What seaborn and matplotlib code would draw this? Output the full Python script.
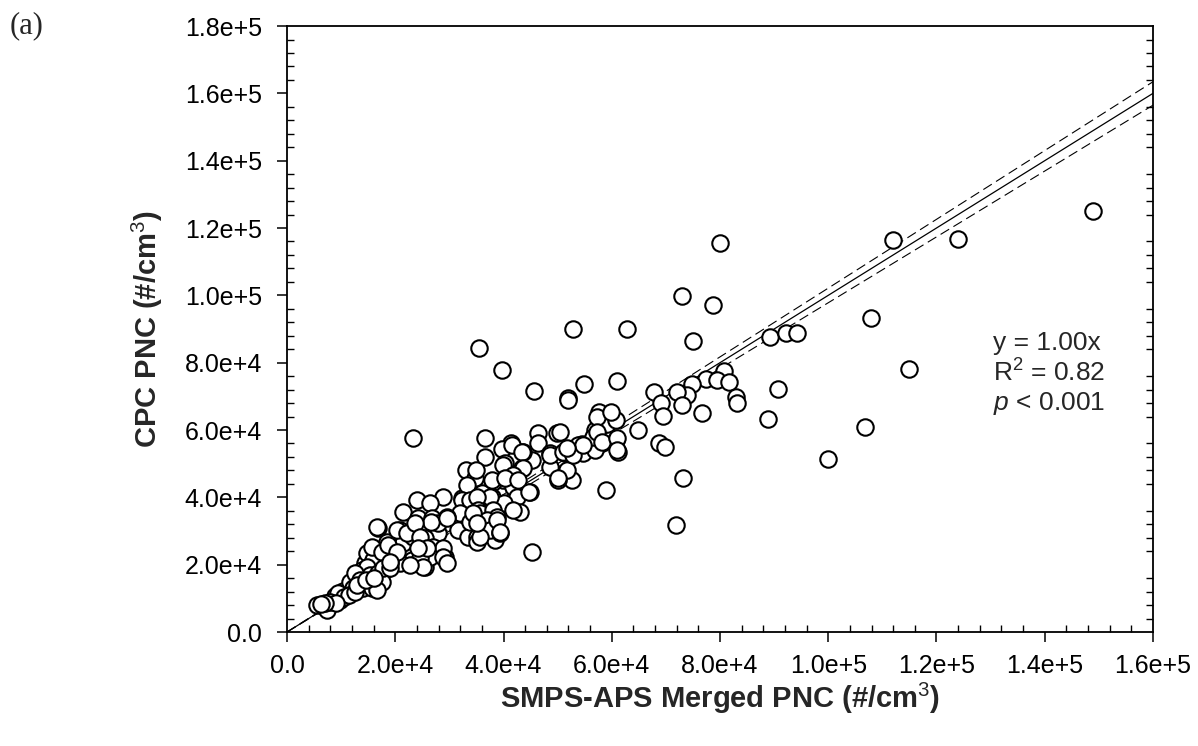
import numpy as np
import pandas as pd
import matplotlib
matplotlib.use("Agg")
import matplotlib.pyplot as plt
from matplotlib.ticker import MultipleLocator, FuncFormatter
import seaborn as sns

# Paired number concentrations, in thousands of particles per cm^3
smps_k = [
    149, 124, 112, 80, 73, 78.7, 107.9, 75, 89.3, 92.2, 94.3, 115, 80.8, 77.4, 79.5, 81.7,
    74.8, 73.9, 72.1, 83, 83.2, 67.8, 69.1, 73, 69.5, 76.7, 90.8, 88.9, 106.8, 100, 68.8,
    69.9, 73.2, 71.9,
    23.3, 35.5, 39.7, 52.9, 62.8, 45.7, 51.9, 54.9, 61, 64.9, 59, 45.3,
    57.7, 59.2, 60.8, 56.9, 58.2, 60.8, 61.2, 54.5, 54.7, 52.7, 51.4, 51.7, 49.9, 46.4,
    46.4, 48.6, 48.6, 50.1, 45.3, 43.6, 44.9, 43.4, 41.4, 39.7, 36.6, 36.6, 40.3, 39.9,
    38.1, 33.1, 34.8, 41.8, 42.5, 43.1, 37.9, 40, 32.3, 36,
    51.9, 53.8, 57.3, 56.9, 56.6, 41.6, 43.4, 39.9, 43.6, 41.8, 48.6, 51, 52.9, 50.1,
    34.9, 37.9, 40.3, 42.7, 37.5, 44.8,
    59.9, 57.3, 58.2, 61, 61, 54.7, 51.7, 50.5,
    28.8, 33.3, 32.3, 33.8, 35.1, 32, 35.3, 35.7, 38.1, 38.8, 38.4, 29.6, 27.9, 31.6,
    33.5, 35.1, 35.1, 29.2, 25.5, 24, 26.4, 21.4, 24.2, 26.8, 24.6, 27.9, 23.1, 25.5,
    16.8, 18.5, 20.3, 21.4, 23.1, 20.9, 19, 18.1, 16.6, 15.7, 15, 14.4, 13.9, 12.9, 12.2,
    26.6, 29.6, 33.8, 37, 37.5, 39.4, 35.7, 20.9, 21.4, 23.3, 25, 27, 28.8, 26.4,
    24.6, 28.8, 25.1, 29.6,
    34.4, 35.1, 38.8, 39.4, 41.8,
    16.6, 20.3, 22.2, 23.7, 24.6, 25.9, 24.2, 22.7,
    14.8, 15.9, 15.7, 17.6, 18.7, 20.3,
    14.8, 15.3, 14, 15.7,
    5.5, 6.7, 7.6, 8.5, 7.4, 10.4, 8.9, 9.8, 11.6, 12.6, 12.2, 13.5, 16.8, 17.6, 16.6,
    17.7, 19, 19,
    9.5, 10.5, 11.5, 12.5, 8, 9, 13, 14.5, 16, 7, 6.2,
]
cpc_k = [
    125, 116.6, 116.3, 115.7, 99.7, 97, 93.2, 86.3, 87.5, 88.7, 88.7, 78, 77.4, 75.3, 74.8, 74.2,
    73.6, 70.3, 71.2, 69.7, 68, 71.2, 68, 67.4, 64.1, 65, 72.1, 63.2, 60.8, 51.3, 56.1,
    54.9, 45.7, 31.8,
    57.6, 84.3, 77.7, 89.9, 89.9, 71.5, 69.4, 73.6, 74.5, 59.9, 42.1, 23.7,
    65.3, 61.7, 62.9, 59.9, 56.1, 57, 53.4, 55.8, 53.1, 45.1, 53.1, 48.1, 59, 59,
    56.1, 53.1, 49, 45.1, 51, 53.4, 41.5, 48.7, 56.1, 54.3, 57.6, 51.9, 50.1, 45.1,
    44.5, 48.1, 45.7, 43, 40.1, 35.6, 40.1, 38.3, 39.8, 41.2,
    68.8, 55.5, 63.8, 54, 57.9, 55.5, 53.4, 49.6, 48.7, 46.6, 52.5, 53.4, 52.5, 45.7,
    48.1, 45.1, 45.7, 45.1, 40.1, 41.5,
    65.3, 59.3, 56.4, 57.6, 54, 55.5, 54.6, 59.3,
    40.1, 43.6, 39.2, 39.2, 40.1, 35.3, 36.2, 35.3, 36.2, 34.1, 27.3, 34.1, 29.4, 30.3,
    28.2, 28.2, 26.7, 22.3, 19.3, 39.2, 38.3, 35.6, 33.8, 33.8, 25.2, 32.3, 28.2, 27.9,
    30.9, 26.7, 23.4, 23.4, 21.4, 20.5, 20.5, 18.4, 18.4, 17.5, 23.4, 20.5, 18.4, 15.4, 13.4,
    32.6, 33.8, 32.6, 33.2, 30.3, 29.4, 28.2, 30.3, 26.4, 28.2, 25.2, 25.2, 24.9, 22.3,
    22, 22.3, 19.3, 20.5,
    35.3, 32.3, 33.2, 29.7, 36.2,
    31.2, 30.3, 29.4, 32.3, 28.2, 24.9, 24.9, 19.9,
    23.4, 21.4, 25.2, 23.7, 25.8, 23.7,
    19.3, 16.9, 13.1, 13.1,
    8, 7.7, 8.6, 9.5, 6.5, 12.2, 10.7, 9.5, 14.8, 17.5, 13.1, 15.4, 17.5, 14.8, 12.5,
    19, 19, 20.8,
    11.5, 10.5, 11, 12, 9, 8.5, 14, 15.5, 16, 8.5, 8.2,
]

# Fit through the origin and the 95% confidence bounds of its slope
fit_slope = 1.00
ci_slope_upper = 1.0215
ci_slope_lower = 0.978
stats_lines = ["y = 1.00x", "R$^{2}$ = 0.82", "$p$ < 0.001"]

x_max, y_max = 160000, 180000

df = pd.DataFrame({"smps": np.array(smps_k) * 1e3, "cpc": np.array(cpc_k) * 1e3})

sns.set_theme(style="white")
plt.rcParams["font.family"] = ["Liberation Sans", "DejaVu Sans"]
plt.rcParams["mathtext.fontset"] = "custom"
plt.rcParams["mathtext.rm"] = "Liberation Sans"
plt.rcParams["mathtext.it"] = "Liberation Sans:italic"
plt.rcParams["mathtext.bf"] = "Liberation Sans:bold"

fig = plt.figure(figsize=(11.98, 7.46), dpi=100)
ax = fig.add_axes([0.2396, 0.1528, 0.7228, 0.8123])

line_x = np.array([0, x_max])
fit_df = pd.DataFrame({
    "x": np.tile(line_x, 3),
    "y": np.concatenate([line_x * fit_slope, line_x * ci_slope_upper, line_x * ci_slope_lower]),
    "kind": ["fit"] * 2 + ["upper"] * 2 + ["lower"] * 2,
})
sns.lineplot(data=fit_df[fit_df.kind == "fit"], x="x", y="y", ax=ax,
             color="black", linewidth=0.9, zorder=1)
for k in ("upper", "lower"):
    sns.lineplot(data=fit_df[fit_df.kind == k], x="x", y="y", ax=ax,
                 color="black", linewidth=0.8, dashes=False, zorder=1,
                 linestyle=(0, (9, 4.5)))

sns.scatterplot(data=df, x="smps", y="cpc", ax=ax, s=140, marker="o",
                facecolor="white", edgecolor="black", linewidth=1.5, zorder=3)

ax.set_xlim(0, x_max)
ax.set_ylim(0, y_max)

def sci_fmt(v, pos):
    if v == 0:
        return "0.0"
    exp = int(np.floor(np.log10(abs(v))))
    mant = v / 10 ** exp
    return f"{mant:.1f}e+{exp}"

ax.xaxis.set_major_locator(MultipleLocator(20000))
ax.xaxis.set_minor_locator(MultipleLocator(4000))
ax.yaxis.set_major_locator(MultipleLocator(20000))
ax.yaxis.set_minor_locator(MultipleLocator(4000))
ax.xaxis.set_major_formatter(FuncFormatter(sci_fmt))
ax.yaxis.set_major_formatter(FuncFormatter(sci_fmt))

ax.tick_params(which="major", direction="out", length=7, width=1.1,
               labelsize=18, color="black", labelcolor="black",
               bottom=True, left=True, top=False, right=False)
ax.tick_params(which="minor", direction="in", length=5, width=1.0,
               color="black", bottom=True, left=True, top=False, right=True)
ax.tick_params(axis="x", which="major", pad=9)
ax.tick_params(axis="y", which="major", pad=11)

for sp in ax.spines.values():
    sp.set_visible(True)
    sp.set_color("black")
    sp.set_linewidth(1.3)

ax.set_xlabel("SMPS-APS Merged PNC (#/cm$^{3}$)", fontsize=21,
              fontweight="bold", labelpad=2)
ax.set_ylabel("CPC PNC (#/cm$^{3}$)", fontsize=21, fontweight="bold", labelpad=14)

for i, txt in enumerate(stats_lines):
    ax.text(130500, 85800 - i * 8900, txt, fontsize=19, ha="left", va="center")

fig.text(0.008, 0.985, "(a)", fontsize=22, family="Liberation Serif",
         ha="left", va="top")

fig.savefig("out.png", dpi=100, facecolor="white")
